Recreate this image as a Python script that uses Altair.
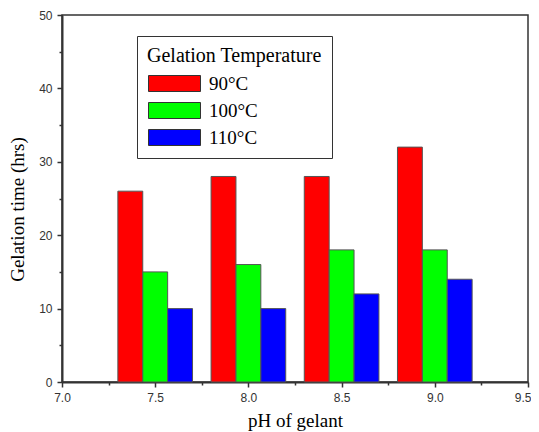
import altair as alt
import pandas as pd

ph_values = [7.5, 8.0, 8.5, 9.0]
series = ["90°C", "100°C", "110°C"]
time_90 = [26, 28, 28, 32]
time_100 = [15, 16, 18, 18]
time_110 = [10, 10, 12, 14]
colors = ["#ff0000", "#00ff00", "#0000ff"]
x_tick_values = [7.0, 7.25, 7.5, 7.75, 8.0, 8.25, 8.5, 8.75, 9.0, 9.25, 9.5]
y_tick_values = [0, 5, 10, 15, 20, 25, 30, 35, 40, 45, 50]

rows = []
for i, (name, vals) in enumerate(zip(series, [time_90, time_100, time_110])):
    for p, v in zip(ph_values, vals):
        rows.append({"ph": p, "temp": name, "idx": i, "time": v})
df = pd.DataFrame(rows)

bw = 0.1335  # bar width in pH units

serif = "Liberation Serif"
sans = "Liberation Sans"

chart = alt.Chart(df).transform_calculate(
    x0=f"datum.ph + (datum.idx - 1.5) * {bw}",
    x1=f"datum.ph + (datum.idx - 0.5) * {bw}",
).mark_bar(stroke="#555555", strokeWidth=1).encode(
    x=alt.X("x0:Q",
            scale=alt.Scale(domain=[7.0, 9.5], nice=False, zero=False),
            axis=alt.Axis(
                title="pH of gelant",
                values=x_tick_values,
                labelExpr="datum.value % 0.5 === 0 ? format(datum.value, '.1f') : ''",
                tickSize={"condition": {"test": "datum.value % 0.5 === 0", "value": 5}, "value": 3},
                labelAlign={"condition": {"test": "datum.value === 9.5", "value": "right"}, "value": "center"},
                labelOffset={"condition": {"test": "datum.value === 9.5", "value": 3}, "value": 0},
                tickColor="#333333", tickWidth=1.5,
                domainColor="#333333", domainWidth=2,
                labelFont=sans, labelFontSize=12, labelColor="#333333",
                labelPadding=5, labelFlush=False,
                titleFont=serif, titleFontSize=19, titleFontWeight="normal",
                titleColor="#000000", titlePadding=8, grid=False)),
    x2="x1:Q",
    y=alt.Y("time:Q",
            scale=alt.Scale(domain=[0, 50], nice=False),
            axis=alt.Axis(
                title="Gelation time (hrs)",
                values=y_tick_values,
                labelExpr="datum.value % 10 === 0 ? format(datum.value, 'd') : ''",
                tickSize={"condition": {"test": "datum.value % 10 === 0", "value": 5}, "value": 3},
                tickColor="#333333", tickWidth=1.5,
                domainColor="#333333", domainWidth=2,
                labelFont=sans, labelFontSize=12, labelColor="#333333",
                labelPadding=5, labelFlush=False,
                titleFont=serif, titleFontSize=19, titleFontWeight="normal",
                titleColor="#000000", titlePadding=11, titleY=194, grid=False)),
    y2=alt.datum(0),
    color=alt.Color("temp:N",
                    scale=alt.Scale(domain=series, range=colors),
                    sort=series,
                    legend=alt.Legend(
                        title="Gelation Temperature",
                        orient="none", legendX=75, legendY=21,
                        symbolType="M-1,-1H5.5V1H-1Z",
                        symbolSize=256,
                        symbolStrokeColor="#333333", symbolStrokeWidth=1,
                        symbolOpacity=1,
                        labelFont=serif, labelFontSize=19, labelColor="#000000",
                        labelOffset=43,
                        titleFont=serif, titleFontSize=20, titleFontWeight="normal",
                        titleColor="#000000", titlePadding=8,
                        padding=10, strokeColor="#333333", fillColor="#ffffff",
                        rowPadding=6)),
).properties(
    width=466, height=367,
    autosize=alt.AutoSizeParams(type="none"),
    padding={"left": 54, "top": 7, "right": 3, "bottom": 49},
).configure_view(stroke="#333333", strokeWidth=1.5)

chart.save("out.html", embed_options={"renderer": "svg", "actions": False})
